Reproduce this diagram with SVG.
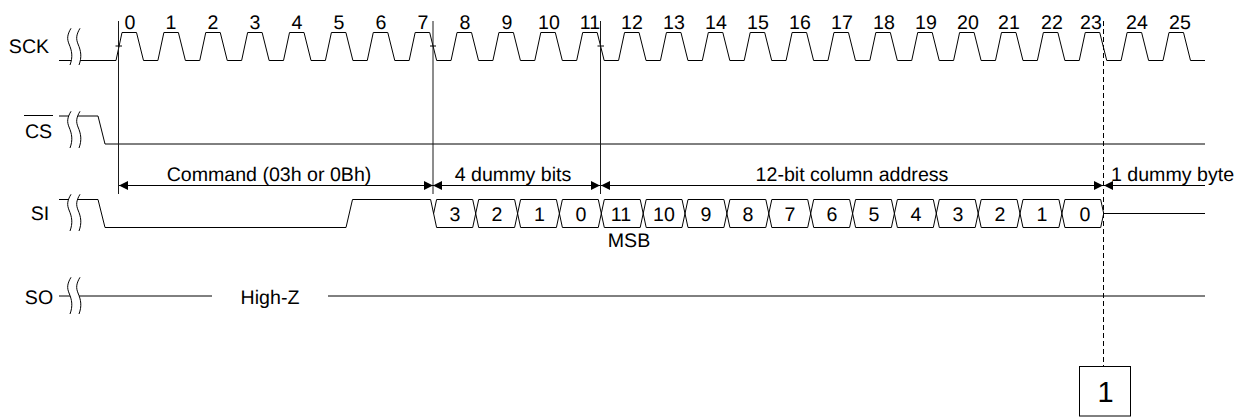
<svg xmlns="http://www.w3.org/2000/svg" width="1245" height="417" viewBox="0 0 1245 417">
<style>
text{font-family:"Liberation Sans",Arial,sans-serif;font-size:19.6px;fill:#000;text-anchor:middle;text-rendering:geometricPrecision}
.w{fill:none;stroke:#000;stroke-width:1}
.g{fill:none;stroke:#1a1a1a;stroke-width:1}
</style>
<defs>
<g id="brk">
<path d="M6-18.7C2-12 2-8 4-3C7 4 8 10 5 18L14 18C17 10 16 4 13-3C11-8 11-12 15-18.7Z" fill="#fff"/>
<path class="w" d="M6-18.7C2-12 2-8 4-3C7 4 8 10 5 18M15-18.7C11-12 11-8 13-3C16 4 17 10 14 18"/>
</g>
<marker id="ah" viewBox="0 0 9 9" markerWidth="9" markerHeight="9" refX="9" refY="4.5" orient="auto-start-reverse" markerUnits="userSpaceOnUse"><path d="M0 0L9 4.5L0 9Z" fill="#000"/></marker>
</defs>
<g id="sck">
<path class="w" d="M59 60.5H116l6-28h14.5l7 28h14.38l6-28h14.5l7 28h14.38l6-28h14.5l7 28h14.38l6-28h14.5l7 28h14.38l6-28h14.5l7 28h14.38l6-28h14.5l7 28h14.38l6-28h14.5l7 28h14.38l6-28h14.5l7 28h14.38l6-28h14.5l7 28h14.38l6-28h14.5l7 28h14.38l6-28h14.5l7 28h14.38l6-28h14.5l7 28h14.38l6-28h14.5l7 28h14.38l6-28h14.5l7 28h14.38l6-28h14.5l7 28h14.38l6-28h14.5l7 28h14.38l6-28h14.5l7 28h14.38l6-28h14.5l7 28h14.38l6-28h14.5l7 28h14.38l6-28h14.5l7 28h14.38l6-28h14.5l7 28h14.38l6-28h14.5l7 28h14.38l6-28h14.5l7 28h14.38l6-28h14.5l7 28h14.38l6-28h14.5l7 28h14.38l6-28h14.5l7 28H1205"/>
<use href="#brk" x="65" y="47"/>
<text x="29" y="52.5">SCK</text>
<text x="130" y="29">0</text><text x="171" y="29">1</text><text x="213" y="29">2</text><text x="255" y="29">3</text><text x="297" y="29">4</text><text x="339" y="29">5</text><text x="381" y="29">6</text><text x="423" y="29">7</text><text x="465" y="29">8</text><text x="507" y="29">9</text><text x="549" y="29">10</text><text x="590" y="29">11</text><text x="632" y="29">12</text><text x="674" y="29">13</text><text x="716" y="29">14</text><text x="758" y="29">15</text><text x="800" y="29">16</text><text x="842" y="29">17</text><text x="884" y="29">18</text><text x="926" y="29">19</text><text x="968" y="29">20</text><text x="1009" y="29">21</text><text x="1052" y="29">22</text><text x="1091" y="29">23</text><text x="1137" y="29">24</text><text x="1180" y="29">25</text>
</g>
<g id="cs">
<path class="w" d="M59 116H98L105 144H1205"/>
<use href="#brk" x="65" y="130"/>
<text x="38.5" y="138">CS</text>
<path class="w" d="M24 115.5H53"/>
</g>
<g id="si">
<path class="w" d="M59 199.5H98L105 227.5H346L352.5 199.5H430.6L436.6 227.5H472.7L478.7 199.5H514.6L520.6 227.5H556.4L562.4 199.5H598.3L604.3 227.5H640.2L646.2 199.5H682L688 227.5H723.9L729.9 199.5H765.8L771.8 227.5H807.7L813.7 199.5H849.6L855.6 227.5H891.4L897.4 199.5H933.3L939.3 227.5H975.2L981.2 199.5H1017L1023 227.5H1058.9L1064.9 199.5H1100.7L1103.7 213.5L1100.7 227.5H1064.9L1058.9 199.5H1023L1017 227.5H981.2L975.2 199.5H939.3L933.3 227.5H897.4L891.4 199.5H855.6L849.6 227.5H813.7L807.7 199.5H771.8L765.8 227.5H729.9L723.9 199.5H688L682 227.5H646.2L640.2 199.5H604.3L598.3 227.5H562.4L556.4 199.5H520.6L514.6 227.5H478.7L472.7 199.5H436.6L433.6 213.5"/>
<path class="w" d="M1104 213.5H1205"/>
<use href="#brk" x="65" y="213"/>
<text x="40" y="220">SI</text>
<g><text x="455" y="221">3</text><text x="497" y="221">2</text><text x="539.5" y="221">1</text><text x="581" y="221">0</text><text x="621" y="221">11</text><text x="664" y="221">10</text><text x="706" y="221">9</text><text x="748" y="221">8</text><text x="790" y="221">7</text><text x="832" y="221">6</text><text x="874" y="221">5</text><text x="916" y="221">4</text><text x="958" y="221">3</text><text x="1000" y="221">2</text><text x="1042" y="221">1</text><text x="1085" y="221">0</text></g>
<text x="629" y="247">MSB</text>
</g>
<g id="so">
<path class="w" d="M59 296H212M328 296H1205"/>
<use href="#brk" x="65" y="296"/>
<text x="39" y="304">SO</text>
<text x="270" y="304">High-Z</text>
</g>
<g id="connectors">
<path class="g" d="M118.5 21V194M433 21V194M600.5 21V194"/>
<path class="w" d="M115.5 46H122M430 46H436M597.5 46H604"/>
<path class="w" stroke-dasharray="5 3" d="M1103.5 21V366"/>
<path class="w" marker-start="url(#ah)" marker-end="url(#ah)" d="M119 185.5H433"/>
<path class="w" marker-start="url(#ah)" marker-end="url(#ah)" d="M433 185.5H600"/>
<path class="w" marker-start="url(#ah)" marker-end="url(#ah)" d="M601 185.5H1103"/>
<path class="w" marker-start="url(#ah)" d="M1104 185.5H1205"/>
<text x="269" y="181">Command (03h or 0Bh)</text>
<text x="513" y="181">4 dummy bits</text>
<text x="852" y="181">12-bit column address</text>
<text x="1172.5" y="181">1 dummy byte</text>
</g>
<g id="note">
<rect class="w" x="1079.5" y="366.5" width="51" height="49.5"/>
<text x="1105.5" y="402" style="font-size:29px">1</text>
</g>
</svg>
